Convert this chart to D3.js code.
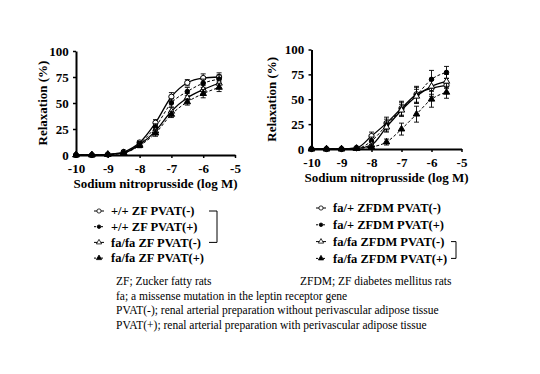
<!DOCTYPE html>
<html><head><meta charset="utf-8">
<script src="https://cdn.jsdelivr.net/npm/d3@7"></script>
<style>
body{margin:0;background:#fff;}
</style></head>
<body><svg id="c" width="540" height="374"></svg>
<script>
// ---- data ----
const logDose = [-10, -9.5, -9, -8.5, -8, -7.5, -7, -6.5, -6, -5.5];
const xTicks = [-10, -9, -8, -7, -6, -5];
const yTicks = [0, 25, 50, 75, 100];

// Left panel: ZF
const zfWtMinus   = [0, 0, 0.5, 3, 12, 31, 56, 69.5, 74, 75];
const zfWtMinusE  = [0, 0, 0.5, 1, 2, 3, 4, 3, 4, 4];
const zfWtPlus    = [0, 0, 0.5, 2, 11, 27, 50, 61, 69, 73];
const zfWtPlusE   = [0, 0, 0.5, 1, 2, 3, 4, 4, 4, 4];
const zfFaMinus   = [0, 0, 0.5, 2, 10, 23, 42, 55, 63, 69];
const zfFaMinusE  = [0, 0, 0.5, 1, 2, 3, 4, 4, 4, 4];
const zfFaPlus    = [0, 0, 0.5, 2, 9, 21, 39, 51, 59, 65];
const zfFaPlusE   = [0, 0, 0.5, 1, 2, 3, 3, 3, 4, 4];

// Right panel: ZFDM
const dmHetMinus  = [0, 0, 0, 1, 13, 26, 41, 55, 61, 64];
const dmHetMinusE = [0, 0, 0, 1, 4, 6, 7, 8, 8, 7];
const dmHetPlus   = [0, 0, 0, 0.5, 8, 24, 40, 54, 70, 77];
const dmHetPlusE  = [0, 0, 0, 0.5, 4, 6, 7, 8, 9, 6];
const dmFaMinus   = [0, 0, 0, 0.5, 4, 22, 39, 53, 63, 68];
const dmFaMinusE  = [0, 0, 0, 0.5, 3, 5, 6, 7, 8, 7];
const dmFaPlus    = [0, 0, 0, 0.5, 2, 7, 20, 35, 50, 57];
const dmFaPlusE   = [0, 0, 0, 0.5, 2, 3, 6, 8, 8, 6];

const leftLabels  = ["+/+ ZF PVAT(-)", "+/+ ZF PVAT(+)", "fa/fa ZF PVAT(-)", "fa/fa ZF PVAT(+)"];
const rightLabels = ["fa/+ ZFDM PVAT(-)", "fa/+ ZFDM PVAT(+)", "fa/fa ZFDM PVAT(-)", "fa/fa ZFDM PVAT(+)"];
const axisTitleX = "Sodium nitroprusside (log M)";
const axisTitleY = "Relaxation (%)";
const footnotes = [
  "ZF; Zucker fatty rats",
  "fa; a missense mutation in the leptin receptor gene",
  "PVAT(-); renal arterial preparation without perivascular adipose tissue",
  "PVAT(+); renal arterial preparation with perivascular adipose tissue"
];
const footnoteRight = "ZFDM; ZF diabetes mellitus rats";

// ---- drawing ----
const FONT = "'Liberation Serif', Tinos, 'Times New Roman', 'DejaVu Serif', serif";
const svg = d3.select("#c");
const styles = [
  {marker:"circle", fill:"#fff", dash:null, width:1.3},
  {marker:"circle", fill:"#000", dash:"3,2", width:1},
  {marker:"triangle", fill:"#fff", dash:null, width:1.3},
  {marker:"triangle", fill:"#000", dash:"3,2", width:1}
];

function markerPath(type, size){
  return d3.symbol().type(type === "circle" ? d3.symbolCircle : d3.symbolTriangle).size(size)();
}
function txt(sel, size, bold){
  return sel.style("font-family", FONT).style("font-size", size + "px")
    .style("font-weight", bold ? "bold" : "normal").style("fill", "#000");
}

function panel(o){
  const g = svg.append("g");
  const x = d3.scaleLinear().domain([-10, -5]).range(o.xr);
  const y = d3.scaleLinear().domain([0, 100]).range(o.yr);

  o.series.forEach((s, i) => {
    const st = styles[i];
    const pts = logDose.map((d, j) => ({x: d, y: s.v[j], e: s.e[j]}));
    const eb = g.append("g").attr("stroke", "#000").attr("stroke-width", 0.9);
    pts.forEach(p => {
      if (p.e <= 0.6) return;
      const cx = x(p.x);
      eb.append("line").attr("x1", cx).attr("x2", cx).attr("y1", y(p.y - p.e)).attr("y2", y(p.y + p.e));
      eb.append("line").attr("x1", cx - 2.5).attr("x2", cx + 2.5).attr("y1", y(p.y - p.e)).attr("y2", y(p.y - p.e));
      eb.append("line").attr("x1", cx - 2.5).attr("x2", cx + 2.5).attr("y1", y(p.y + p.e)).attr("y2", y(p.y + p.e));
    });
    g.append("path").datum(pts)
      .attr("fill", "none").attr("stroke", "#000")
      .attr("stroke-width", st.width)
      .attr("stroke-dasharray", st.dash)
      .attr("d", d3.line().x(p => x(p.x)).y(p => y(p.y)).curve(d3.curveMonotoneX));
    g.selectAll(null).data(pts).enter().append("path")
      .attr("transform", p => `translate(${x(p.x)},${y(p.y)})`)
      .attr("d", markerPath(st.marker, st.marker === "circle" ? (st.fill === "#fff" ? 22 : 16) : 18))
      .attr("fill", st.fill).attr("stroke", "#000").attr("stroke-width", 1);
  });

  const xa = g.append("g").attr("transform", `translate(0,${o.yr[0]})`)
    .call(d3.axisBottom(x).tickValues(xTicks).tickFormat(d => String(d)).tickSize(3).tickSizeOuter(0));
  const ya = g.append("g").attr("transform", `translate(${o.xr[0]},0)`)
    .call(d3.axisLeft(y).tickValues(yTicks).tickFormat(d => String(d)).tickSize(3).tickSizeOuter(0));
  [xa, ya].forEach(a => {
    a.select(".domain").attr("stroke-width", 2);
    a.selectAll(".tick line").attr("stroke-width", 1.5);
    txt(a.selectAll("text"), 13, true);
  });
  xa.selectAll("text").attr("dy", "0.9em");
  ya.selectAll("text").attr("dx", "-0.1em");

  txt(g.append("text").attr("x", (o.xr[0] + o.xr[1]) / 2).attr("y", o.yr[0] + 33)
    .attr("text-anchor", "middle").text(axisTitleX), 13, true);
  txt(g.append("text").attr("transform", `translate(${o.ytX},${(o.yr[0] + o.yr[1]) / 2}) rotate(-90)`)
    .attr("text-anchor", "middle").text(axisTitleY), 13, true);

  const lg = g.append("g");
  o.labels.forEach((lab, i) => {
    const st = styles[i];
    const yy = o.legY + i * o.legDy;
    lg.append("line").attr("x1", o.legX).attr("x2", o.legX + 10).attr("y1", yy).attr("y2", yy)
      .attr("stroke", "#000").attr("stroke-width", 1).attr("stroke-dasharray", st.dash ? "2,1.5" : null);
    lg.append("path").attr("transform", `translate(${o.legX + 5},${yy})`)
      .attr("d", markerPath(st.marker, st.marker === "circle" ? (st.fill === "#fff" ? 14 : 10) : 12))
      .attr("fill", st.fill).attr("stroke", "#000").attr("stroke-width", 0.8);
    txt(lg.append("text").attr("x", o.legX + 17).attr("y", yy).attr("dy", "0.35em").text(lab), o.legFont, true);
  });
  const b = o.bracket;
  lg.append("path").attr("fill", "none").attr("stroke", "#000").attr("stroke-width", 1)
    .attr("d", `M${b.x0},${o.legY + b.r0 * o.legDy}H${b.x1}V${o.legY + b.r1 * o.legDy}H${b.x0}`);
}

panel({
  xr: [76, 235], yr: [155, 51], ytX: 47,
  series: [
    {v: zfWtMinus, e: zfWtMinusE}, {v: zfWtPlus, e: zfWtPlusE},
    {v: zfFaMinus, e: zfFaMinusE}, {v: zfFaPlus, e: zfFaPlusE}
  ],
  labels: leftLabels, legX: 94, legY: 211, legDy: 15.7, legFont: 12.5,
  bracket: {x0: 209, x1: 217, r0: 0, r1: 2}
});
panel({
  xr: [311.5, 461.5], yr: [149, 49.5], ytX: 276,
  series: [
    {v: dmHetMinus, e: dmHetMinusE}, {v: dmHetPlus, e: dmHetPlusE},
    {v: dmFaMinus, e: dmFaMinusE}, {v: dmFaPlus, e: dmFaPlusE}
  ],
  labels: rightLabels, legX: 316, legY: 208, legDy: 16.8, legFont: 12.5,
  bracket: {x0: 451, x1: 456, r0: 2, r1: 3}
});

const fn = svg.append("g");
footnotes.forEach((t, i) => {
  txt(fn.append("text").attr("x", 116).attr("y", 285 + i * 14.5).text(t), 11.5, false);
});
txt(fn.append("text").attr("x", 300).attr("y", 285).text(footnoteRight), 11.5, false);
</script>
</body></html>
